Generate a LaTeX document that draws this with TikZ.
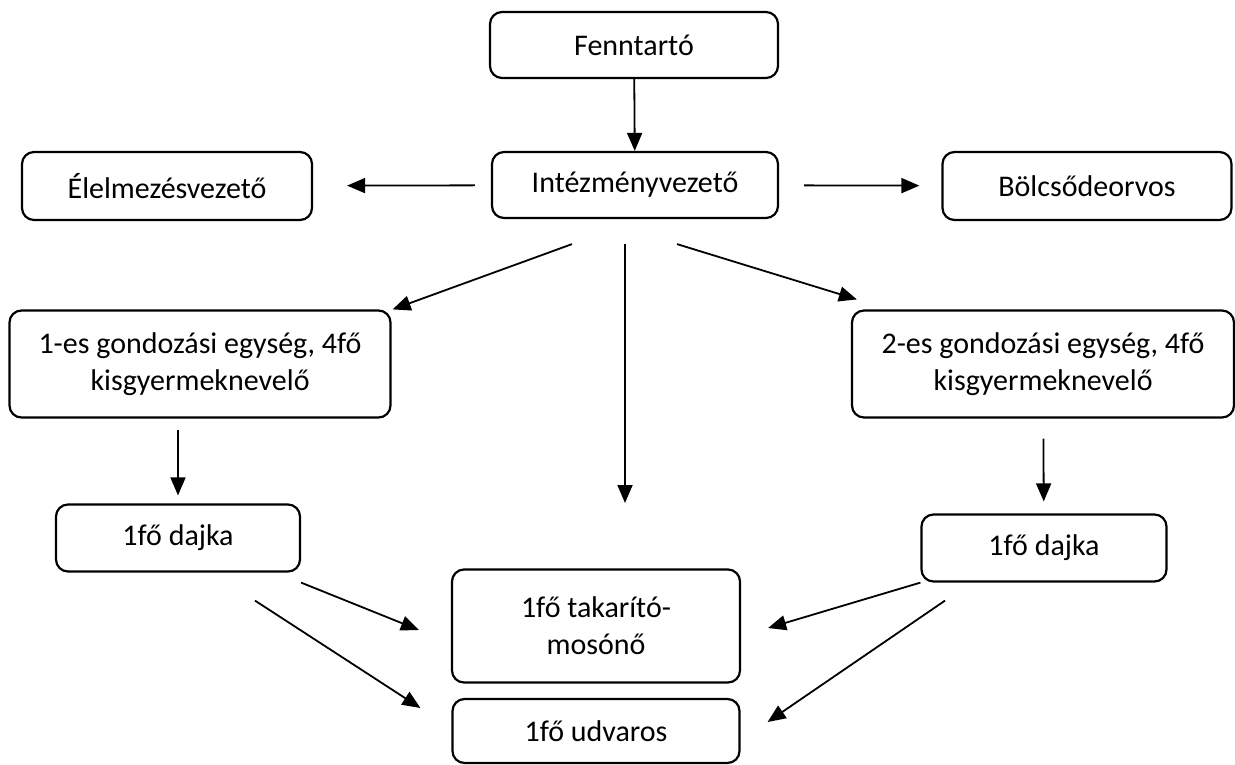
\documentclass[tikz,border=0pt]{standalone}
\usepackage{fontspec}
\setmainfont{Carlito}
\usetikzlibrary{arrows.meta}
\tikzset{
  box/.style={draw, rounded corners=12pt, line width=2.2pt, align=center, inner sep=0pt, font=\fontsize{30}{37}\selectfont},
  arr/.style={-{Triangle[length=18pt,width=15pt]}, line width=1.8pt},
}
\begin{document}
\begin{tikzpicture}[x=1pt, y=-1pt]
\useasboundingbox (0,0) rectangle (1235,764);
% top levels
\node[box, minimum width=288pt, minimum height=66pt] (fenn) at (634,45) {Fenntartó};
\node[box, minimum width=286pt, minimum height=66pt] (intez) at (635,185) {Intézményvezető};
\node[box, minimum width=290pt, minimum height=68pt] (elelm) at (167,186) {Élelmezésvezető};
\node[box, minimum width=289pt, minimum height=68pt] (bolcs) at (1087,186) {Bölcsődeorvos};
% care units
\node[box, minimum width=381pt, minimum height=107pt] (egys1) at (200,364) {1-es gondozási egység, 4fő\\kisgyermeknevelő};
\node[box, minimum width=382pt, minimum height=107pt] (egys2) at (1043,364) {2-es gondozási egység, 4fő\\kisgyermeknevelő};
\node[box, minimum width=244pt, minimum height=67pt] (dajka1) at (178,538) {1fő dajka};
\node[box, minimum width=245pt, minimum height=67pt] (dajka2) at (1044,548) {1fő dajka};
% bottom
\node[box, minimum width=288pt, minimum height=113pt] (takar) at (596,626) {1fő takarító-\\mosónő};
\node[box, minimum width=287pt, minimum height=64pt] (udvar) at (596,731) {1fő udvaros};
\coordinate (drop) at (625,503);

\draw[arr] (fenn) -- (intez);
\draw[arr, shorten <=16pt, shorten >=34pt] (intez) -- (elelm);
\draw[arr, shorten <=25pt, shorten >=22pt] (intez) -- (bolcs);
\draw[arr] ([shift={(-63,25)}]intez.south) -- ([shift={(1,0)}]egys1.north east);
\draw[arr] ([shift={(-10,25)}]intez.south) -- (drop);
\draw[arr] ([shift={(42,25)}]intez.south) -- ([shift={(6,-10)}]egys2.north west);
\draw[arr, shorten <=11pt, shorten >=8pt] (dajka1.north |- egys1.south) -- (dajka1.north);
\draw[arr, shorten <=20pt, shorten >=12pt] (egys2) -- (dajka2);
\draw[arr] ([shift={(0,10)}]dajka1.south east) -- ([shift={(-32,4)}]takar.west);
\draw[arr] ([shift={(77,28)}]dajka1.south) -- ([shift={(-31,-23)}]udvar.west);
\draw[arr] (dajka2.south west) -- ([shift={(27,2)}]takar.east);
\draw[arr] ([shift={(-99,18)}]dajka2.south) -- ([shift={(27,-9)}]udvar.east);
\end{tikzpicture}
\end{document}
